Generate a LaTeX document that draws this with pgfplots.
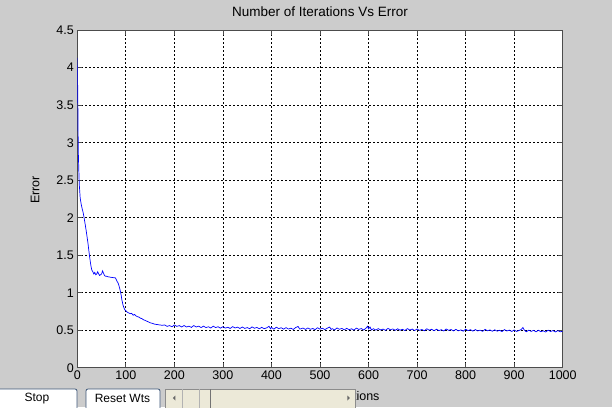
\documentclass[border=0pt]{standalone}
\usepackage{fontspec}
\setmainfont{Liberation Sans}
\usepackage{pgfplots}
\usepackage{pgfplotstable}
\pgfplotsset{compat=1.18}
\definecolor{figbg}{RGB}{204,204,204}
\definecolor{mblue}{RGB}{0,0,255}
\definecolor{btnedge}{RGB}{60,85,120}
\definecolor{scrollbg}{RGB}{236,233,216}

% iterations vs training error
\pgfplotstableread{
it err
0 4.13
1 3.63
2 2.90
3 2.66
4 2.45
6 2.26
8 2.18
10 2.12
12 2.07
14 2.00
16 1.92
18 1.84
20 1.75
22 1.66
24 1.55
26 1.45
28 1.36
30 1.30
32 1.28
34 1.25
36 1.27
38 1.24
40 1.25
42 1.28
44 1.25
46 1.23
48 1.24
50 1.25
52 1.29
54 1.26
56 1.23
58 1.22
60 1.22
62 1.215
65 1.21
70 1.205
75 1.20
78 1.20
80 1.18
82 1.15
84 1.13
86 1.09
88 1.04
90 0.98
92 0.90
94 0.84
96 0.80
98 0.77
100 0.76
103 0.74
106 0.73
109 0.72
112 0.725
115 0.70
118 0.71
121 0.69
124 0.68
127 0.675
130 0.66
133 0.655
136 0.64
140 0.63
145 0.615
150 0.60
155 0.59
160 0.58
165 0.575
170 0.57
175 0.565
180 0.570
185 0.551
190 0.562
195 0.545
200 0.570
205 0.551
210 0.562
215 0.543
220 0.562
225 0.543
230 0.554
235 0.537
240 0.562
245 0.543
250 0.554
255 0.535
260 0.554
265 0.535
270 0.546
275 0.529
280 0.554
285 0.535
290 0.546
295 0.527
300 0.547
305 0.528
310 0.539
315 0.523
320 0.548
325 0.530
330 0.541
335 0.523
340 0.542
345 0.524
350 0.535
355 0.519
360 0.544
365 0.526
370 0.537
375 0.519
380 0.538
385 0.520
390 0.531
395 0.552
398 0.519
400 0.537
405 0.514
410 0.540
415 0.521
420 0.533
425 0.514
430 0.534
435 0.515
440 0.527
445 0.510
450 0.536
455 0.550
458 0.515
460 0.517
465 0.529
470 0.510
475 0.530
480 0.512
485 0.523
490 0.507
495 0.533
500 0.514
505 0.526
510 0.508
515 0.527
520 0.542
523 0.509
525 0.521
530 0.504
535 0.530
540 0.512
545 0.524
550 0.505
555 0.525
560 0.507
565 0.519
570 0.502
575 0.528
580 0.510
585 0.522
590 0.503
595 0.528
598 0.553
600 0.518
603 0.543
606 0.504
610 0.520
615 0.502
620 0.521
625 0.503
630 0.515
635 0.498
640 0.524
645 0.506
650 0.517
655 0.499
660 0.519
665 0.500
670 0.512
675 0.496
680 0.521
685 0.503
690 0.515
695 0.496
700 0.516
705 0.498
710 0.509
715 0.493
720 0.519
725 0.500
730 0.512
735 0.494
740 0.513
745 0.495
750 0.507
755 0.490
760 0.516
765 0.498
770 0.509
775 0.491
780 0.511
785 0.492
790 0.504
795 0.488
800 0.513
805 0.495
810 0.507
815 0.488
820 0.508
825 0.490
830 0.501
835 0.485
840 0.511
845 0.492
850 0.504
855 0.486
860 0.505
865 0.487
870 0.499
875 0.482
880 0.508
885 0.490
890 0.501
895 0.483
900 0.503
905 0.484
910 0.496
915 0.512
918 0.536
921 0.501
925 0.479
930 0.500
935 0.484
940 0.498
945 0.479
950 0.499
955 0.481
960 0.492
965 0.476
970 0.500
975 0.483
980 0.495
985 0.477
990 0.494
995 0.478
1000 0.488
}\errtable

\begin{document}
\begin{tikzpicture}
% figure window area
\clip (-77.3pt,-39.3pt) rectangle (534.7pt,367.7pt);
\fill[figbg] (-77.3pt,-39.3pt) rectangle (534.7pt,367.7pt);
\begin{axis}[
  scale only axis, width=485.4pt, height=337.5pt,
  xmin=0, xmax=1000, ymin=0, ymax=4.5,
  xtick={0,100,...,1000}, ytick={0,0.5,...,4.5},
  axis background/.style={fill=white},
  axis line style={black!70, line width=0.8pt},
  grid=major,
  major grid style={black, line width=0.7pt, dash pattern=on 2pt off 2pt},
  tick align=inside, major tick length=5pt,
  tick style={black!70, line width=0.7pt},
  tick label style={font=\fontsize{12.5}{14}\selectfont},
  /pgf/number format/assume math mode=true,
  /pgf/number format/1000 sep={},
  title={Number of Iterations Vs Error},
  title style={at={(axis description cs:0.5,1.0376)}, anchor=center, font=\fontsize{13.5}{15}\selectfont},
  xlabel={Number of Iterations},
  xlabel style={at={(axis description cs:0.6298,-0.0839)}, anchor=east, font=\fontsize{12.5}{14}\selectfont},
  ylabel={Error},
  ylabel style={at={(axis description cs:-0.0871,0.5265)}, anchor=center, font=\fontsize{12.5}{14}\selectfont},
]
\addplot[mblue, line width=0.7pt] table[x=it, y=err] {\errtable};
\end{axis}
% GUI controls drawn over the x label
\draw[btnedge, fill=white, rounded corners=2pt, line width=0.8pt] (-82pt,-21.3pt) rectangle (-0.3pt,-46pt);
\node[font=\fontsize{12}{14}\selectfont] at (-40.3pt,-30.6pt) {Stop};
\draw[btnedge, fill=white, rounded corners=2pt, line width=0.8pt] (8.7pt,-21.3pt) rectangle (82.7pt,-46pt);
\node[font=\fontsize{12}{14}\selectfont] at (45.2pt,-30.6pt) {Reset Wts};
\draw[black!45, fill=scrollbg, line width=0.8pt] (87.7pt,-21.3pt) rectangle (277.7pt,-46pt);
\draw[black!30, line width=0.6pt] (104.7pt,-21.3pt) -- (104.7pt,-46pt);
\draw[black!30, line width=0.6pt] (121.7pt,-21.3pt) -- (121.7pt,-46pt);
\draw[black!55, line width=0.8pt] (132.7pt,-21.3pt) -- (132.7pt,-46pt);
\fill[black!60] (95.5pt,-30.3pt) -- (98pt,-27.8pt) -- (98pt,-32.8pt) -- cycle;
\fill[black!60] (272.5pt,-30.3pt) -- (270pt,-27.8pt) -- (270pt,-32.8pt) -- cycle;
\end{tikzpicture}
\end{document}
